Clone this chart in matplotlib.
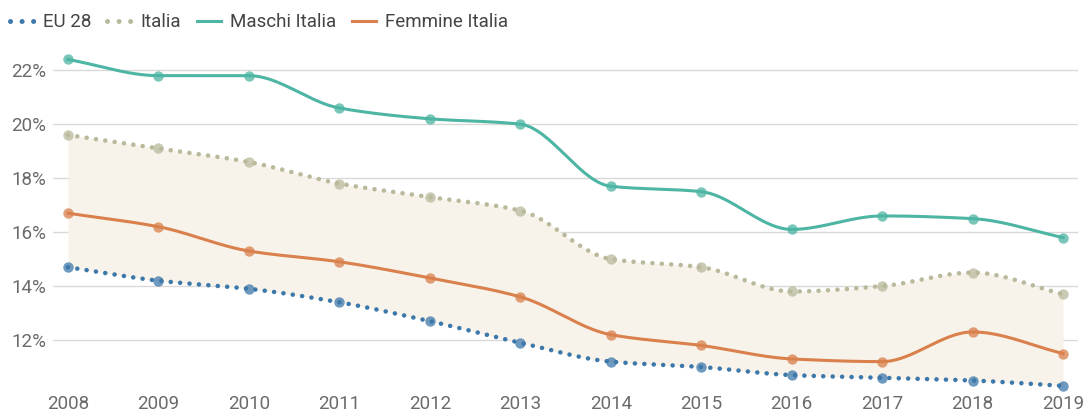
import numpy as np
import matplotlib.pyplot as plt
from matplotlib.lines import Line2D

plt.rcParams['font.family'] = ['Roboto', 'DejaVu Sans']

# === dati ===
anni = [2008, 2009, 2010, 2011, 2012, 2013, 2014, 2015, 2016, 2017, 2018, 2019]
eu28 = [14.7, 14.2, 13.9, 13.4, 12.7, 11.9, 11.2, 11.0, 10.7, 10.6, 10.5, 10.3]
italia = [19.6, 19.1, 18.6, 17.8, 17.3, 16.8, 15.0, 14.7, 13.8, 14.0, 14.5, 13.7]
maschi = [22.4, 21.8, 21.8, 20.6, 20.2, 20.0, 17.7, 17.5, 16.1, 16.6, 16.5, 15.8]
femmine = [16.7, 16.2, 15.3, 14.9, 14.3, 13.6, 12.2, 11.8, 11.3, 11.2, 12.3, 11.5]
yticks = [12, 14, 16, 18, 20, 22]

C_EU = '#3d78aa'
C_IT = '#b9b99c'
C_M = '#4db5a3'
C_F = '#d9804c'
C_FILL = '#f8f3ea'
C_TXT = '#6b6b6b'


def monotone(x, y, n=40):
    """curva monotona (Fritsch-Carlson) solo per disegnare la linea"""
    x = np.asarray(x, float); y = np.asarray(y, float)
    h = np.diff(x); d = np.diff(y) / h
    m = np.zeros_like(y)
    m[0], m[-1] = d[0], d[-1]
    for i in range(1, len(y) - 1):
        if d[i - 1] * d[i] <= 0:
            m[i] = 0
        else:
            m[i] = 3 * (h[i - 1] + h[i]) / ((2 * h[i] + h[i - 1]) / d[i - 1] + (h[i] + 2 * h[i - 1]) / d[i])
    xs, ys = [], []
    for i in range(len(h)):
        t = np.linspace(0, 1, n, endpoint=False)
        h00 = 2 * t**3 - 3 * t**2 + 1; h10 = t**3 - 2 * t**2 + t
        h01 = -2 * t**3 + 3 * t**2; h11 = t**3 - t**2
        xs.append(x[i] + t * h[i])
        ys.append(h00 * y[i] + h10 * h[i] * m[i] + h01 * y[i + 1] + h11 * h[i] * m[i + 1])
    xs.append([x[-1]]); ys.append([y[-1]])
    return np.concatenate(xs), np.concatenate(ys)


fig = plt.figure(figsize=(10.89, 4.15), dpi=100)
ax = fig.add_axes([53 / 1089, 21 / 415, (1078 - 53) / 1089, (394 - 50) / 415])

xe, ye = monotone(anni, eu28)
xi, yi = monotone(anni, italia)
xm, ym = monotone(anni, maschi)
xf, yf = monotone(anni, femmine)

ax.fill_between(xi, ye, yi, color=C_FILL, zorder=1, lw=0)

dots = (0, (0.01, 2.05))
ax.plot(xe, ye, color=C_EU, lw=3.3, linestyle=dots, dash_capstyle='round', zorder=4)
ax.plot(xi, yi, color=C_IT, lw=3.3, linestyle=dots, dash_capstyle='round', zorder=3)
ax.plot(xm, ym, color=C_M, lw=2.2, zorder=3)
ax.plot(xf, yf, color=C_F, lw=2.2, zorder=3)

for vals, c in [(eu28, C_EU), (italia, C_IT), (maschi, C_M), (femmine, C_F)]:
    ax.plot(anni, vals, 'o', color=c, ms=7.5, alpha=0.75, mec='none', zorder=5)

ax.set_xlim(2008 - 0.165, 2019 + 0.165)
ax.set_ylim(10, 22.75)
ax.set_yticks(yticks)
ax.set_yticklabels([f'{v}%' for v in yticks])
ax.set_xticks(anni)
ax.set_xticklabels([str(a) for a in anni])
ax.grid(axis='y', color='#d9d9d9', lw=1)
ax.set_axisbelow(True)
for s in ax.spines.values():
    s.set_visible(False)
ax.tick_params(length=0, labelsize=13.5, colors=C_TXT)
ax.tick_params(axis='x', pad=1)
ax.tick_params(axis='y', pad=5)

handles = [
    Line2D([], [], color=C_EU, lw=3.6, linestyle=(0, (0.01, 2.3)), dash_capstyle='round'),
    Line2D([], [], color=C_IT, lw=3.6, linestyle=(0, (0.01, 2.3)), dash_capstyle='round'),
    Line2D([], [], color=C_M, lw=2.2),
    Line2D([], [], color=C_F, lw=2.2),
]
fig.legend(handles, ['EU 28', 'Italia', 'Maschi Italia', 'Femmine Italia'],
           loc='upper left', bbox_to_anchor=(0.0, 0.993), ncol=4, frameon=False,
           fontsize=13.5, handlelength=1.3, handletextpad=0.45, columnspacing=0.85,
           labelcolor='#444444', borderaxespad=0.15)

fig.savefig('out.png', dpi=100)
